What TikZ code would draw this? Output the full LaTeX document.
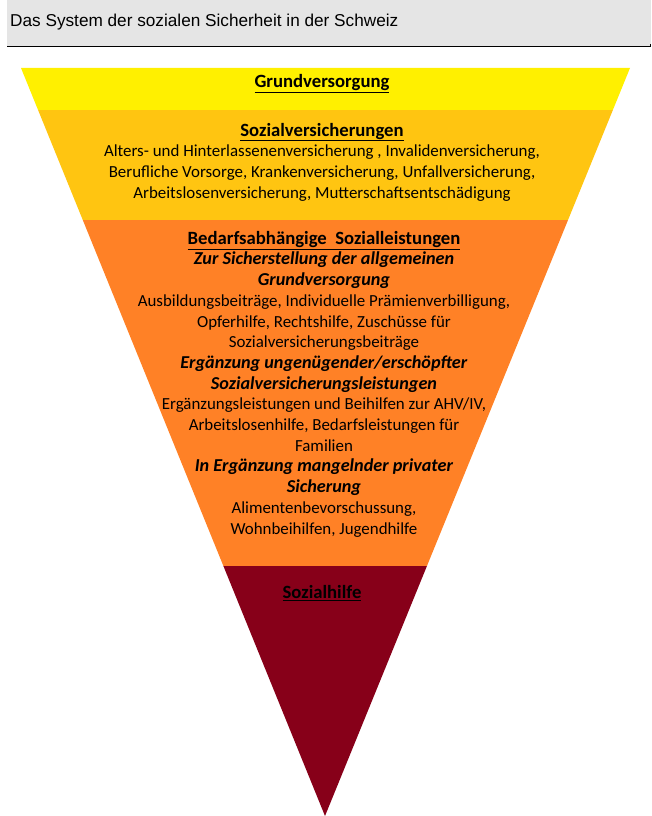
\documentclass[tikz,border=0pt]{standalone}
\usepackage{fontspec}
\setmainfont{Carlito}
\newfontfamily\titlefont{Liberation Sans}
\definecolor{hdrgray}{HTML}{E5E5E5}
\definecolor{cyellow}{HTML}{FFF000}
\definecolor{cgold}{HTML}{FFC511}
\definecolor{corange}{HTML}{FF8126}
\definecolor{cdarkred}{HTML}{870019}
\newcommand\hdrtxt[1]{{\fontsize{18.7}{20.7}\selectfont\underline{\textbf{#1}}}}
\newcommand\subtxt[1]{{\fontsize{18.2}{20.7}\selectfont\textbf{\textit{#1}}}}
\tikzset{
  bandtext/.style={align=center, inner sep=0pt, text=black, font=\fontsize{16.9}{20.7}\selectfont},
}
\begin{document}
\begin{tikzpicture}[x=1pt,y=-1pt]
\useasboundingbox (0,0) rectangle (651,816);
% header
\fill[hdrgray] (7,0) rectangle (651,46);
\draw[line width=1pt] (7,47) -- (650.5,47) -- (650.5,44);
\node[anchor=base west, inner sep=0pt, font=\titlefont\fontsize{17.2}{20}\selectfont] (title) at (10,27) {Das System der sozialen Sicherheit in der Schweiz};
% triangle
\coordinate (TL) at (21,68);
\coordinate (TR) at (630,68);
\coordinate (A) at (325,816);
\begin{scope}
\clip (TL) -- (TR) -- (A) -- cycle;
\fill[cyellow] (0,60) rectangle (651,110);
\fill[cgold] (0,110) rectangle (651,220);
\fill[corange] (0,220) rectangle (651,566);
\fill[cdarkred] (0,566) rectangle (651,820);
\end{scope}
% texts
\node[bandtext] (grund) at (322,84) {\hdrtxt{Grundversorgung}};
\node[bandtext] (sozv) at (322,162) {\hdrtxt{Sozialversicherungen}\\
Alters- und Hinterlassenenversicherung , Invalidenversicherung,\\
Berufliche Vorsorge, Krankenversicherung, Unfallversicherung,\\
Arbeitslosenversicherung, Mutterschaftsentschädigung};
\node[bandtext] (bedarf) at (324,384) {\hdrtxt{Bedarfsabhängige\ \ Sozialleistungen}\\
\subtxt{Zur Sicherstellung der allgemeinen}\\
\subtxt{Grundversorgung}\\
Ausbildungsbeiträge, Individuelle Prämienverbilligung,\\
Opferhilfe, Rechtshilfe, Zuschüsse für\\
Sozialversicherungsbeiträge\\
\subtxt{Ergänzung ungenügender/erschöpfter}\\
\subtxt{Sozialversicherungsleistungen}\\
Ergänzungsleistungen und Beihilfen zur AHV/IV,\\
Arbeitslosenhilfe, Bedarfsleistungen für\\
Familien\\
\subtxt{In Ergänzung mangelnder privater}\\
\subtxt{Sicherung}\\
Alimentenbevorschussung,\\
Wohnbeihilfen, Jugendhilfe};
\node[bandtext] (sozh) at (322,593) {\hdrtxt{Sozialhilfe}};
\end{tikzpicture}
\end{document}
